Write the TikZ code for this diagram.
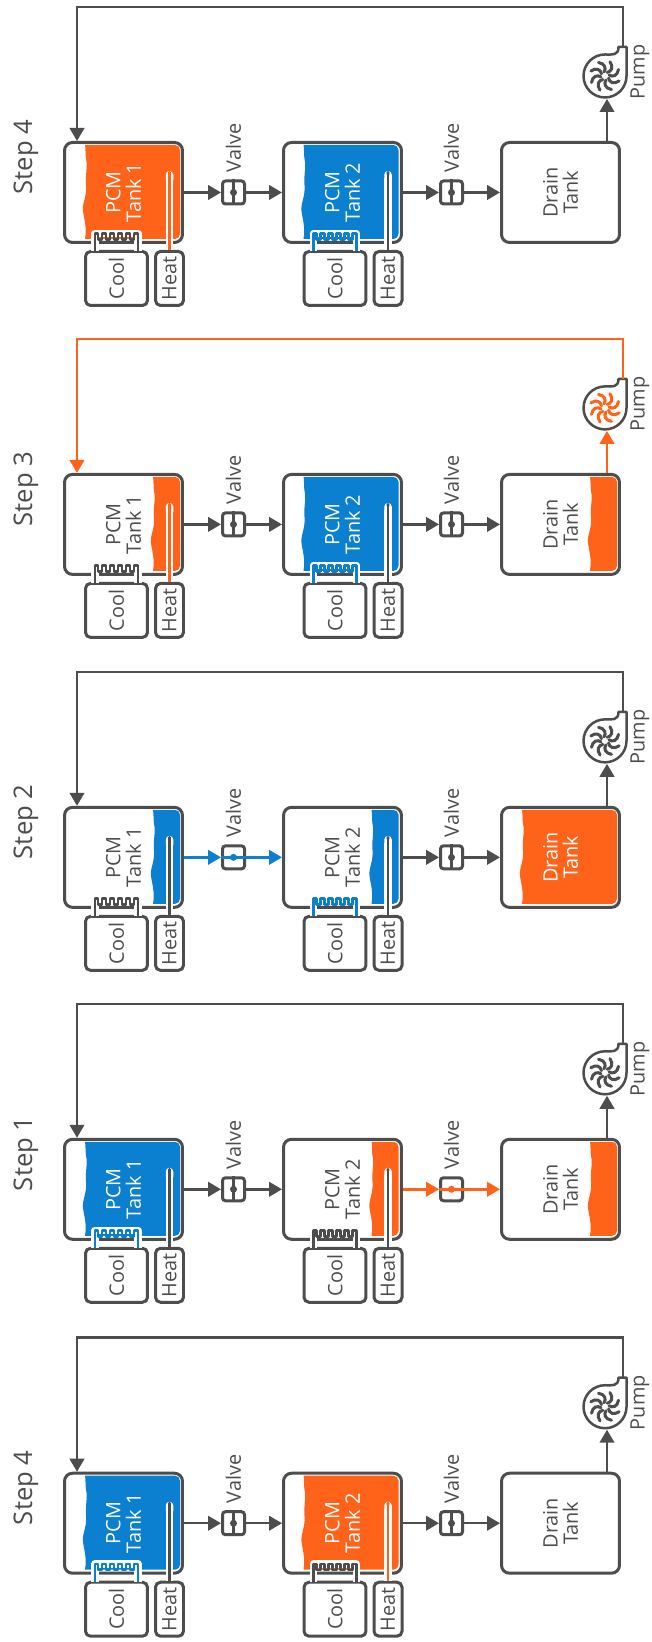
\documentclass[tikz,border=0pt]{standalone}
\usepackage{fontspec}
\setmainfont{Open Sans}
\usetikzlibrary{arrows.meta}
\definecolor{linegray}{HTML}{4D4D4D}
\definecolor{pcmorange}{HTML}{FF6319}
\definecolor{pcmblue}{HTML}{0B80D0}
\tikzset{
  tankbox/.style={draw=linegray, line width=0.06cm, rounded corners=0.16cm, minimum width=2.36cm, minimum height=2cm, inner sep=0},
  tanktext/.style={rotate=90, align=center, inner sep=0, font=\fontsize{11.3}{11.6}\selectfont},
  coolbox/.style={rotate=90, draw=linegray, fill=white, text=linegray, line width=0.06cm, rounded corners=0.1cm, minimum width=1.08cm, minimum height=1.24cm, inner sep=0, font=\fontsize{11.3}{12}\selectfont},
  heatbox/.style={coolbox, minimum height=0.56cm},
  valvebox/.style={draw=linegray, line width=0.06cm, rounded corners=0.06cm, minimum width=0.44cm, minimum height=0.46cm, inner sep=0},
  plaintext/.style={rotate=90, text=linegray, inner sep=0, font=\fontsize{11.3}{12}\selectfont},
  steptext/.style={rotate=90, text=linegray, inner sep=0, font=\fontsize{14.6}{16}\selectfont},
  flow/.style={draw=#1, line width=0.05cm, -{Triangle[length=0.26cm,width=0.29cm]}},
  plainflow/.style={draw=#1, line width=0.05cm},
  rodhalo/.style={draw=white, line width=0.15cm, {Round Cap[]}-},
  rodline/.style={draw=#1, line width=0.055cm, {Round Cap[]}-},
  pics/fluid/.style 2 args={code={
    \fill[#1] (#2,4) [rounded corners=0.1cm] -- (180,4) -- (180,98) [sharp corners] -- (#2,98)
      .. controls (#2+2,86) and (#2-1,78) .. (#2-2,70)
      .. controls (#2-3,62) and (#2+2,56) .. (#2+1,44)
      .. controls (#2,34) and (#2+3,26) .. (#2+1,18)
      .. controls (#2,12) and (#2+1,8) .. (#2,4) -- cycle;
  }},
  pics/comb/.style={code={
    \draw[white, line width=0.15cm, line join=round] (0,0) -- (0,-18) -- (43,-18) -- (43,0);
    \draw[#1, line width=0.05cm, line join=round] (0,0) -- (0,-18) -- (3,-18) -- (3,-12) -- (7,-12) -- (7,-18) -- (11,-18) -- (11,-12) -- (15,-12) -- (15,-18) -- (19,-18) -- (19,-12) -- (23,-12) -- (23,-18) -- (27,-18) -- (27,-12) -- (31,-12) -- (31,-18) -- (35,-18) -- (35,-12) -- (39,-12) -- (39,-18) -- (43,-18) -- (43,0);
  }},
  pics/pumpbody/.style={code={
    \draw[linegray, line width=0.05cm, line join=round] (21.5,-29) -- (21.5,0) arc[start angle=0, end angle=-270, radius=0.43cm] .. controls (7,-21.5) and (13.5,-20) .. (13.5,-29) -- cycle;
    \foreach \a in {0,45,...,315}
      \draw[#1, line width=0.06cm, line cap=round, rotate=\a] (0.08cm,0.02cm) .. controls (0.15cm,-0.03cm) and (0.25cm,0cm) .. (0.27cm,0.13cm);
  }}
}

\begin{document}
\begin{tikzpicture}[x=0.02cm, y=-0.02cm]
\useasboundingbox[fill=white] (0,0) rectangle (652,1642);

%---Step 4, tank 1 hot---
\begin{scope}[yshift=-2.82cm, name prefix=a-]
\node[steptext] (step) at (26,16) {Step 4};
\pic at (0,0) {fluid={pcmorange}{85}};
\pic at (218.5,0) {fluid={pcmblue}{85}};
\node[tankbox] (tankone) at (123.5,51.5) {};
\node[tankbox] (tanktwo) at (342.5,51.5) {};
\node[tankbox] (drain) at (560.5,51.5) {};
\node[tanktext, text=white] (nameone) at (123.5,51.5) {PCM\\Tank 1};
\node[tanktext, text=white] (nametwo) at (342.5,51.5) {PCM\\Tank 2};
\node[tanktext, text=linegray] (namedrain) at (560.5,51.5) {Drain\\Tank};
\node[coolbox] (coolone) at (116.5,137.5) {Cool};
\node[heatbox] (heatone) at (169.5,137.5) {Heat};
\node[coolbox] (cooltwo) at (335,137.5) {Cool};
\node[heatbox] (heattwo) at (388,137.5) {Heat};
\pic at (95,110.5) {comb=linegray};
\pic at (313.5,110.5) {comb=pcmblue};
\coordinate (rodone) at (169.5,30);
\coordinate (rodtwo) at (388,30);
\draw[rodhalo] (rodone) -- (heatone.east);
\draw[rodline=pcmorange] (rodone) -- (heatone.east);
\draw[rodhalo] (rodtwo) -- (heattwo.east);
\draw[rodline=linegray] (rodtwo) -- (heattwo.east);
\node[valvebox] (valveone) at (233.5,51.5) {};
\node[valvebox] (valvetwo) at (451.5,51.5) {};
\node[plaintext] (labelone) at (233.5,7) {Valve};
\node[plaintext] (labeltwo) at (451.5,7) {Valve};
\draw[plainflow=linegray] (valveone.north) -- (valveone.south);
\draw[plainflow=linegray] (valvetwo.north) -- (valvetwo.south);
\fill[linegray] (valveone) circle (0.07cm);
\fill[linegray] (valvetwo) circle (0.07cm);
\draw[flow=linegray] (tankone.east) -- (valveone.west);
\draw[flow=linegray] (valveone.east) -- (tanktwo.west);
\draw[flow=linegray] (tanktwo.east) -- (valvetwo.west);
\draw[flow=linegray] (valvetwo.east) -- (drain.west);
\pic at (605,-65) {pumpbody=linegray};
\node[plaintext] (pumplabel) at (640,-69) {Pump};
\coordinate (pumpin) at (607,-42);
\coordinate (pumpout) at (623,-94);
\coordinate (topright) at (623,-134);
\coordinate (topleft) at (77,-134);
\coordinate (inlet) at (77,0);
\draw[flow=linegray] (drain.north -| pumpin) -- (pumpin);
\draw[flow=linegray] (pumpout) -- (topright) -- (topleft) -- (inlet);
\end{scope}

%---Step 3---
\begin{scope}[yshift=-9.46cm, name prefix=b-]
\node[steptext] (step) at (26,16) {Step 3};
\pic at (0,0) {fluid={pcmorange}{153}};
\pic at (218.5,0) {fluid={pcmblue}{85}};
\pic at (437,0) {fluid={pcmorange}{153}};
\node[tankbox] (tankone) at (123.5,51.5) {};
\node[tankbox] (tanktwo) at (342.5,51.5) {};
\node[tankbox] (drain) at (560.5,51.5) {};
\node[tanktext, text=linegray] (nameone) at (123.5,51.5) {PCM\\Tank 1};
\node[tanktext, text=white] (nametwo) at (342.5,51.5) {PCM\\Tank 2};
\node[tanktext, text=linegray] (namedrain) at (560.5,51.5) {Drain\\Tank};
\node[coolbox] (coolone) at (116.5,137.5) {Cool};
\node[heatbox] (heatone) at (169.5,137.5) {Heat};
\node[coolbox] (cooltwo) at (335,137.5) {Cool};
\node[heatbox] (heattwo) at (388,137.5) {Heat};
\pic at (95,110.5) {comb=linegray};
\pic at (313.5,110.5) {comb=pcmblue};
\coordinate (rodone) at (169.5,30);
\coordinate (rodtwo) at (388,30);
\draw[rodhalo] (rodone) -- (heatone.east);
\draw[rodline=pcmorange] (rodone) -- (heatone.east);
\draw[rodhalo] (rodtwo) -- (heattwo.east);
\draw[rodline=linegray] (rodtwo) -- (heattwo.east);
\node[valvebox] (valveone) at (233.5,51.5) {};
\node[valvebox] (valvetwo) at (451.5,51.5) {};
\node[plaintext] (labelone) at (233.5,7) {Valve};
\node[plaintext] (labeltwo) at (451.5,7) {Valve};
\draw[plainflow=linegray] (valveone.north) -- (valveone.south);
\draw[plainflow=linegray] (valvetwo.north) -- (valvetwo.south);
\fill[linegray] (valveone) circle (0.07cm);
\fill[linegray] (valvetwo) circle (0.07cm);
\draw[flow=linegray] (tankone.east) -- (valveone.west);
\draw[flow=linegray] (valveone.east) -- (tanktwo.west);
\draw[flow=linegray] (tanktwo.east) -- (valvetwo.west);
\draw[flow=linegray] (valvetwo.east) -- (drain.west);
\pic at (605,-65) {pumpbody=pcmorange};
\node[plaintext] (pumplabel) at (640,-69) {Pump};
\coordinate (pumpin) at (607,-42);
\coordinate (pumpout) at (623,-94);
\coordinate (topright) at (623,-134);
\coordinate (topleft) at (77,-134);
\coordinate (inlet) at (77,0);
\draw[flow=pcmorange] (drain.north -| pumpin) -- (pumpin);
\draw[flow=pcmorange] (pumpout) -- (topright) -- (topleft) -- (inlet);
\end{scope}

%---Step 2---
\begin{scope}[yshift=-16.12cm, name prefix=c-]
\node[steptext] (step) at (26,16) {Step 2};
\pic at (0,0) {fluid={pcmblue}{153}};
\pic at (218.5,0) {fluid={pcmblue}{153}};
\pic at (437,0) {fluid={pcmorange}{85}};
\node[tankbox] (tankone) at (123.5,51.5) {};
\node[tankbox] (tanktwo) at (342.5,51.5) {};
\node[tankbox] (drain) at (560.5,51.5) {};
\node[tanktext, text=linegray] (nameone) at (123.5,51.5) {PCM\\Tank 1};
\node[tanktext, text=linegray] (nametwo) at (342.5,51.5) {PCM\\Tank 2};
\node[tanktext, text=white] (namedrain) at (560.5,51.5) {Drain\\Tank};
\node[coolbox] (coolone) at (116.5,137.5) {Cool};
\node[heatbox] (heatone) at (169.5,137.5) {Heat};
\node[coolbox] (cooltwo) at (335,137.5) {Cool};
\node[heatbox] (heattwo) at (388,137.5) {Heat};
\pic at (95,110.5) {comb=linegray};
\pic at (313.5,110.5) {comb=pcmblue};
\coordinate (rodone) at (169.5,30);
\coordinate (rodtwo) at (388,30);
\draw[rodhalo] (rodone) -- (heatone.east);
\draw[rodline=linegray] (rodone) -- (heatone.east);
\draw[rodhalo] (rodtwo) -- (heattwo.east);
\draw[rodline=linegray] (rodtwo) -- (heattwo.east);
\node[valvebox] (valveone) at (233.5,51.5) {};
\node[valvebox] (valvetwo) at (451.5,51.5) {};
\node[plaintext] (labelone) at (233.5,7) {Valve};
\node[plaintext] (labeltwo) at (451.5,7) {Valve};
\draw[plainflow=pcmblue] (valveone.west) -- (valveone.east);
\draw[plainflow=linegray] (valvetwo.north) -- (valvetwo.south);
\fill[pcmblue] (valveone) circle (0.07cm);
\fill[linegray] (valvetwo) circle (0.07cm);
\draw[flow=pcmblue] (tankone.east) -- (valveone.west);
\draw[flow=pcmblue] (valveone.east) -- (tanktwo.west);
\draw[flow=linegray] (tanktwo.east) -- (valvetwo.west);
\draw[flow=linegray] (valvetwo.east) -- (drain.west);
\pic at (605,-65) {pumpbody=linegray};
\node[plaintext] (pumplabel) at (640,-69) {Pump};
\coordinate (pumpin) at (607,-42);
\coordinate (pumpout) at (623,-94);
\coordinate (topright) at (623,-134);
\coordinate (topleft) at (77,-134);
\coordinate (inlet) at (77,0);
\draw[flow=linegray] (drain.north -| pumpin) -- (pumpin);
\draw[flow=linegray] (pumpout) -- (topright) -- (topleft) -- (inlet);
\end{scope}

%---Step 1---
\begin{scope}[yshift=-22.76cm, name prefix=d-]
\node[steptext] (step) at (26,16) {Step 1};
\pic at (0,0) {fluid={pcmblue}{85}};
\pic at (218.5,0) {fluid={pcmorange}{153}};
\pic at (437,0) {fluid={pcmorange}{153}};
\node[tankbox] (tankone) at (123.5,51.5) {};
\node[tankbox] (tanktwo) at (342.5,51.5) {};
\node[tankbox] (drain) at (560.5,51.5) {};
\node[tanktext, text=white] (nameone) at (123.5,51.5) {PCM\\Tank 1};
\node[tanktext, text=linegray] (nametwo) at (342.5,51.5) {PCM\\Tank 2};
\node[tanktext, text=linegray] (namedrain) at (560.5,51.5) {Drain\\Tank};
\node[coolbox] (coolone) at (116.5,137.5) {Cool};
\node[heatbox] (heatone) at (169.5,137.5) {Heat};
\node[coolbox] (cooltwo) at (335,137.5) {Cool};
\node[heatbox] (heattwo) at (388,137.5) {Heat};
\pic at (95,110.5) {comb=pcmblue};
\pic at (313.5,110.5) {comb=linegray};
\coordinate (rodone) at (169.5,30);
\coordinate (rodtwo) at (388,30);
\draw[rodhalo] (rodone) -- (heatone.east);
\draw[rodline=linegray] (rodone) -- (heatone.east);
\draw[rodhalo] (rodtwo) -- (heattwo.east);
\draw[rodline=linegray] (rodtwo) -- (heattwo.east);
\node[valvebox] (valveone) at (233.5,51.5) {};
\node[valvebox] (valvetwo) at (451.5,51.5) {};
\node[plaintext] (labelone) at (233.5,7) {Valve};
\node[plaintext] (labeltwo) at (451.5,7) {Valve};
\draw[plainflow=linegray] (valveone.north) -- (valveone.south);
\draw[plainflow=pcmorange] (valvetwo.west) -- (valvetwo.east);
\fill[linegray] (valveone) circle (0.07cm);
\fill[pcmorange] (valvetwo) circle (0.07cm);
\draw[flow=linegray] (tankone.east) -- (valveone.west);
\draw[flow=linegray] (valveone.east) -- (tanktwo.west);
\draw[flow=pcmorange] (tanktwo.east) -- (valvetwo.west);
\draw[flow=pcmorange] (valvetwo.east) -- (drain.west);
\pic at (605,-65) {pumpbody=linegray};
\node[plaintext] (pumplabel) at (640,-69) {Pump};
\coordinate (pumpin) at (607,-42);
\coordinate (pumpout) at (623,-94);
\coordinate (topright) at (623,-134);
\coordinate (topleft) at (77,-134);
\coordinate (inlet) at (77,0);
\draw[flow=linegray] (drain.north -| pumpin) -- (pumpin);
\draw[flow=linegray] (pumpout) -- (topright) -- (topleft) -- (inlet);
\end{scope}

%---Step 4, tank 2 hot---
\begin{scope}[yshift=-29.44cm, name prefix=e-]
\node[steptext] (step) at (26,16) {Step 4};
\pic at (0,0) {fluid={pcmblue}{85}};
\pic at (218.5,0) {fluid={pcmorange}{85}};
\node[tankbox] (tankone) at (123.5,51.5) {};
\node[tankbox] (tanktwo) at (342.5,51.5) {};
\node[tankbox] (drain) at (560.5,51.5) {};
\node[tanktext, text=white] (nameone) at (123.5,51.5) {PCM\\Tank 1};
\node[tanktext, text=white] (nametwo) at (342.5,51.5) {PCM\\Tank 2};
\node[tanktext, text=linegray] (namedrain) at (560.5,51.5) {Drain\\Tank};
\node[coolbox] (coolone) at (116.5,137.5) {Cool};
\node[heatbox] (heatone) at (169.5,137.5) {Heat};
\node[coolbox] (cooltwo) at (335,137.5) {Cool};
\node[heatbox] (heattwo) at (388,137.5) {Heat};
\pic at (95,110.5) {comb=pcmblue};
\pic at (313.5,110.5) {comb=linegray};
\coordinate (rodone) at (169.5,30);
\coordinate (rodtwo) at (388,30);
\draw[rodhalo] (rodone) -- (heatone.east);
\draw[rodline=linegray] (rodone) -- (heatone.east);
\draw[rodhalo] (rodtwo) -- (heattwo.east);
\draw[rodline=pcmorange] (rodtwo) -- (heattwo.east);
\node[valvebox] (valveone) at (233.5,51.5) {};
\node[valvebox] (valvetwo) at (451.5,51.5) {};
\node[plaintext] (labelone) at (233.5,7) {Valve};
\node[plaintext] (labeltwo) at (451.5,7) {Valve};
\draw[plainflow=linegray] (valveone.north) -- (valveone.south);
\draw[plainflow=linegray] (valvetwo.north) -- (valvetwo.south);
\fill[linegray] (valveone) circle (0.07cm);
\fill[linegray] (valvetwo) circle (0.07cm);
\draw[flow=linegray] (tankone.east) -- (valveone.west);
\draw[flow=linegray] (valveone.east) -- (tanktwo.west);
\draw[flow=linegray] (tanktwo.east) -- (valvetwo.west);
\draw[flow=linegray] (valvetwo.east) -- (drain.west);
\pic at (605,-65) {pumpbody=linegray};
\node[plaintext] (pumplabel) at (640,-69) {Pump};
\coordinate (pumpin) at (607,-42);
\coordinate (pumpout) at (623,-94);
\coordinate (topright) at (623,-134);
\coordinate (topleft) at (77,-134);
\coordinate (inlet) at (77,0);
\draw[flow=linegray] (drain.north -| pumpin) -- (pumpin);
\draw[flow=linegray] (pumpout) -- (topright) -- (topleft) -- (inlet);
\end{scope}

\end{tikzpicture}
\end{document}
